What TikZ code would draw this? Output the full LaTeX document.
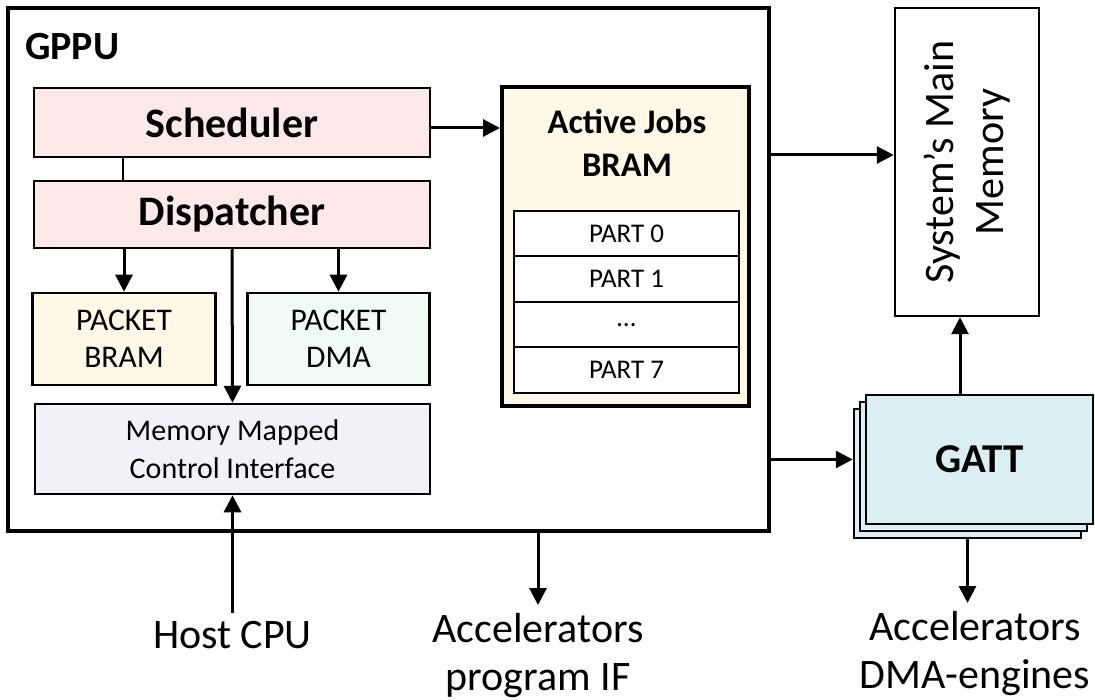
\documentclass[tikz,border=0pt]{standalone}
\usepackage{fontspec}
\setmainfont{Carlito}
\usetikzlibrary{arrows.meta}
\definecolor{schedpink}{RGB}{253,233,233}
\definecolor{bramyellow}{RGB}{255,248,231}
\definecolor{dmagreen}{RGB}{240,251,246}
\definecolor{mmcigray}{RGB}{242,241,247}
\definecolor{gattblue}{RGB}{219,238,243}

\begin{document}
\begin{tikzpicture}[x=1pt, y=-1pt,
        blk/.style={draw, line width=2.5pt, inner sep=0pt, align=center},
        gattbox/.style={blk, fill=gattblue, minimum width=227pt, minimum height=129pt},
        arr/.style={line width=3pt, -{Triangle[length=17pt,width=17pt]}},
        lbl/.style={font=\fontsize{42}{48}\selectfont, align=center, inner sep=8pt}]
        \useasboundingbox (0,0) rectangle (1095,700);

        % GPPU frame
        \node[blk, line width=3.5pt, minimum width=761pt, minimum height=523pt] (gppu) at (388.5,269.5) {};
        \node[anchor=base west, inner sep=0pt, font=\bfseries\fontsize{40}{48}\selectfont] (gppulbl) at (25,60) {GPPU};

        % Scheduler and dispatcher
        \node[blk, fill=schedpink, minimum width=396pt, minimum height=69pt, font=\bfseries\fontsize{42}{50}\selectfont] (sched) at (232,122.5) {Scheduler};
        \node[blk, fill=schedpink, minimum width=396pt, minimum height=67pt, font=\bfseries\fontsize{42}{50}\selectfont] (disp) at (232,214.5) {Dispatcher};

        % Packet units
        \node[blk, fill=bramyellow, minimum width=183pt, minimum height=92pt, font=\fontsize{31.5}{37}\selectfont] (pbram) at (124,339) {PACKET\\BRAM};
        \node[blk, fill=dmagreen, minimum width=182pt, minimum height=92pt, font=\fontsize{31.5}{37}\selectfont] (pdma) at (338.5,339) {PACKET\\DMA};

        % Control interface
        \node[blk, fill=mmcigray, minimum width=395pt, minimum height=90pt, font=\fontsize{30}{38}\selectfont] (mmci) at (232.5,449) {Memory Mapped\\Control Interface};

        % Active jobs memory with its parts
        \node[blk, line width=4pt, fill=bramyellow, minimum width=247pt, minimum height=319pt] (ajobs) at (625.5,246.5) {};
        \node[align=center, font=\bfseries\fontsize{34.5}{43}\selectfont] (ajobslbl) at (627,143) {Active Jobs\\BRAM};
        \foreach \txt [count=\i from 0] in {PART 0, PART 1, {\ldots}, PART 7} {
            \node[blk, line width=2pt, fill=white, minimum width=225pt, minimum height=45.5pt, font=\fontsize{27}{30}\selectfont] (part\i) at (626.5,233.75+45.5*\i) {\txt};
        }

        % Main memory
        \node[blk, minimum width=144pt, minimum height=308pt] (mainmem) at (967,162) {};
        \node[rotate=90, align=center, font=\fontsize{42}{50}\selectfont] (mainmemlbl) at (mainmem.center) {System’s Main\\Memory};

        % GATT (stack of three)
        \foreach \k in {2,1} {
            \node[gattbox] (gatt\k) at (979.5-6*\k,459.5+7*\k) {};
        }
        \node[gattbox, font=\bfseries\fontsize{41}{50}\selectfont] (gatt) at (979.5,459.5) {GATT};

        % Outside labels
        \node[lbl, anchor=base] (host) at (232.5,648) {Host CPU};
        \node[lbl, anchor=north] (accif) at (538,605) {Accelerators\\program IF};
        \node[lbl, anchor=north] (accdma) at (975,603) {Accelerators\\DMA-engines};

        % Connections
        \draw[line width=2.5pt] (sched.south -| 123,0) -- (disp.north -| 123,0);
        \draw[arr] (sched.east |- 0,128) -- (ajobs.west |- 0,128);
        \draw[arr] (disp.south -| pbram.north) -- (pbram.north);
        \draw[arr] (disp.south -| pdma.north) -- (pdma.north);
        \draw[arr] (disp.south) -- (mmci.north);
        \draw[arr] (host.north) -- (mmci.south);
        \draw[arr] (gppu.south -| accif.north) -- (accif.north);
        \draw[arr] (gppu.east |- 0,155) -- (mainmem.west |- 0,155);
        \draw[arr] (gppu.east |- gatt.west) -- (gatt2.west |- gatt.west);
        \draw[arr] ([xshift=-7pt]gatt.north -| mainmem.south) -- ([xshift=-7pt]mainmem.south);
        \draw[arr] (gatt2.south) -- (gatt2.south |- accdma.north);
    \end{tikzpicture}
\end{document}
